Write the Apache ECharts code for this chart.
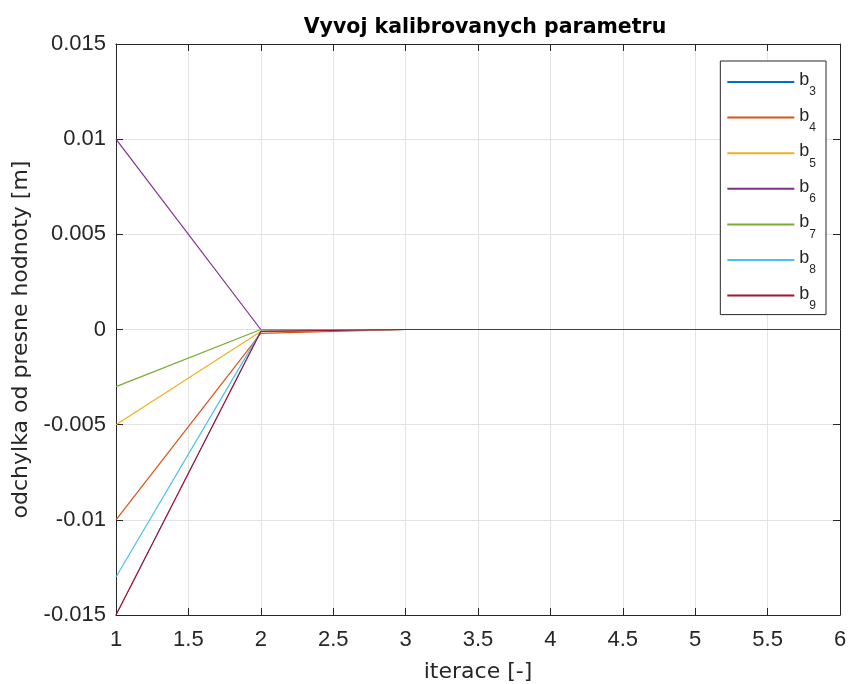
<!DOCTYPE html>
<html>
<head>
<meta charset="utf-8">
<title>Vyvoj kalibrovanych parametru</title>
<script src="https://cdn.jsdelivr.net/npm/echarts@6/dist/echarts.min.js"></script>
</head>
<body style="margin:0;background:#fff;">
<div id="main" style="width:850px;height:684px;"></div>
<script>
var iterations = [1, 2, 3, 4, 5, 6];
var names = ['3', '4', '5', '6', '7', '8', '9'];
var colors = ['#0072BD', '#D95319', '#EDB120', '#7E2F8E', '#77AC30', '#4DBEEE', '#A2142F'];
// b3 is not visible in the picture: it lies under one of the later lines
var b3 = [-0.015, -0.0001, 0, 0, 0, 0];
var b4 = [-0.01, -0.0002, 0, 0, 0, 0];
var b5 = [-0.005, -0.0001, 0, 0, 0, 0];
var b6 = [0.01, 0, 0, 0, 0, 0];
var b7 = [-0.003, 0, 0, 0, 0, 0];
var b8 = [-0.013, -0.0001, 0, 0, 0, 0];
var b9 = [-0.015, -0.0001, 0, 0, 0, 0];
var values = [b3, b4, b5, b6, b7, b8, b9];

var font = 'Liberation Sans, Arial, sans-serif';
var font2 = 'DejaVu Sans, sans-serif';
var fmt = function (v) { return String(parseFloat(v.toFixed(3))); };

var series = values.map(function (vals, i) {
	return {
		name: 'b' + names[i],
		type: 'line',
		data: iterations.map(function (x, j) { return [x, vals[j]]; }),
		symbol: 'none',
		lineStyle: { color: colors[i], width: i === 0 ? 0.8 : 1.2 },
		itemStyle: { color: colors[i] },
		z: 2 + i
	};
});

var axisLine = { show: true, onZero: false, lineStyle: { color: '#262626', width: 1 } };
var tick = { show: true, inside: true, length: 7, lineStyle: { color: '#262626' } };
var chart = echarts.init(document.getElementById('main'));
chart.setOption({
	animation: false,
	backgroundColor: '#fff',
	title: {
		text: 'Vyvoj kalibrovanych parametru',
		left: 480, top: 12, textAlign: 'center',
		textStyle: { fontFamily: font2, fontSize: 20.5, fontWeight: 'bold', color: '#000' }
	},
	grid: { left: 116, right: 10, top: 44, bottom: 69, outerBoundsMode: 'none' },
	legend: {
		orient: 'vertical',
		right: 24, top: 61,
		padding: [5, 10, 3, 7],
		itemGap: 3.6,
		itemWidth: 67, itemHeight: 2,
		icon: 'rect',
		borderColor: '#262626', borderWidth: 1,
		backgroundColor: '#fff',
		data: series.map(function (s) { return s.name; }),
		formatter: function (n) { return '{b|b}{s|' + n.slice(1) + '}'; },
		textStyle: {
			fontFamily: font, color: '#262626',
			rich: {
				b: { fontFamily: font, fontSize: 18, lineHeight: 18, color: '#262626', padding: [0, 0, 4, 0] },
				s: { fontFamily: font, fontSize: 12, lineHeight: 12, color: '#262626', padding: [20, 0, 0, 0] }
			}
		}
	},
	xAxis: [{
		type: 'value', min: 1, max: 6, interval: 0.5,
		name: 'iterace [-]', nameLocation: 'middle', nameGap: 46,
		nameTextStyle: { fontFamily: font2, fontSize: 22, color: '#262626' },
		axisLine: axisLine, axisTick: tick,
		axisLabel: { fontFamily: font, fontSize: 22, color: '#262626', margin: 14, formatter: fmt },
		splitLine: { show: true, lineStyle: { color: '#e3e3e3' } }
	}, {
		type: 'value', min: 1, max: 6, interval: 0.5, position: 'top',
		axisLine: axisLine, axisTick: tick,
		axisLabel: { show: false }, splitLine: { show: false }
	}],
	yAxis: [{
		type: 'value', min: -0.015, max: 0.015, interval: 0.005,
		name: 'odchylka od presne hodnoty [m]', nameLocation: 'middle', nameGap: 84,
		nameTextStyle: { fontFamily: font2, fontSize: 22, color: '#262626', padding: [0, 20, 0, 0] },
		axisLine: axisLine, axisTick: tick,
		axisLabel: { fontFamily: font, fontSize: 22, color: '#262626', margin: 10, formatter: fmt },
		splitLine: { show: true, lineStyle: { color: '#e3e3e3' } }
	}, {
		type: 'value', min: -0.015, max: 0.015, interval: 0.005, position: 'right',
		axisLine: axisLine, axisTick: tick,
		axisLabel: { show: false }, splitLine: { show: false }
	}],
	series: series
});
</script>
</body>
</html>
